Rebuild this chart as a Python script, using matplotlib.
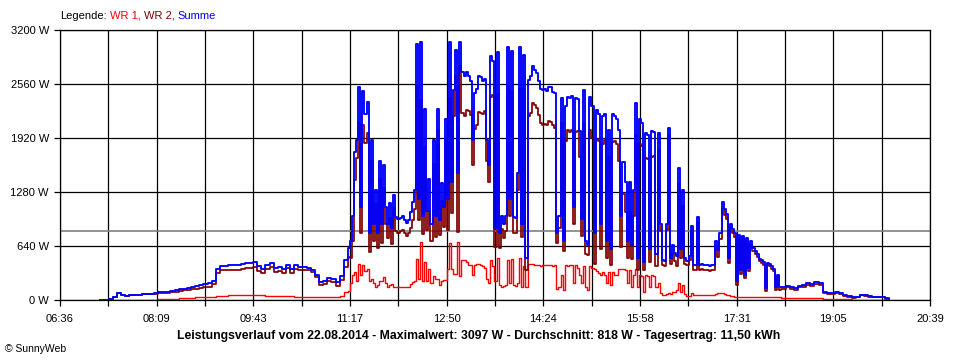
import numpy as np
import matplotlib
matplotlib.use('Agg')
import matplotlib.pyplot as plt

plt.rcParams['font.family'] = ['Liberation Sans', 'DejaVu Sans']

# Zeitachse (Minuten ab Mitternacht), Beschriftung
x_labels = ['06:36', '08:09', '09:43', '11:17', '12:50', '14:24', '15:58', '17:31', '19:05', '20:39']
t_start, t_end = 396, 1239
y_ticks = [0, 640, 1280, 1920, 2560, 3200]
durchschnitt = 818

# Morgen 07:15 - 11:11, alle 4 min
summe_morgen = [0, 5, 10, 30, 80, 60, 50, 60, 60, 65,
                70, 70, 75, 80, 90, 95, 100, 105, 115, 125,
                135, 140, 150, 165, 175, 190, 200, 230, 370, 400,
                400, 410, 410, 420, 430, 440, 440, 455, 400, 370,
                420, 440, 380, 390, 370, 420, 370, 410, 390, 390,
                380, 360, 300, 210, 220, 260, 250, 210, 280, 480]
wr1_morgen = [0, 0, 0, 0, 0, 0, 0, 0, 0, 0,
              0, 0, 0, 5, 10, 10, 15, 15, 15, 20,
              20, 25, 25, 30, 30, 35, 40, 40, 45, 50,
              50, 55, 55, 60, 60, 65, 65, 65, 60, 55,
              50, 45, 45, 45, 45, 45, 45, 40, 35, 35,
              30, 30, 30, 30, 30, 30, 35, 40, 45, 90]

# Mittag 11:15 - 18:15, alle 2 min
summe_mittag = [620, 700, 1000, 1750, 1900, 2530, 1100, 2480, 2200, 2350,
                800, 1900, 900, 1300, 800, 1650, 900, 1600, 1100, 900,
                1150, 850, 1250, 980, 960, 970, 990, 950, 910, 950,
                1040, 1160, 1300, 3040, 1200, 3060, 1000, 2260, 1050, 1430,
                900, 1900, 1000, 2260, 950, 1390, 1100, 2140, 1200, 3060,
                1400, 2490, 2960, 1500, 3060, 2700, 2650, 2700, 2650, 2600,
                1900, 2450, 2500, 2660, 2640, 2600, 2620, 1900, 1600, 2890,
                2830, 850, 2940, 800, 1000, 900, 1000, 3000, 1200, 2950,
                980, 970, 1500, 3000, 900, 2900, 500, 2610, 2650, 2770,
                2730, 2690, 2600, 2500, 2490, 2500, 2480, 2530, 2520, 2470,
                2450, 800, 1000, 2400, 700, 2300, 2410, 2400, 2420, 1100,
                2400, 2380, 2000, 960, 2490, 700, 650, 2410, 2300, 800,
                2250, 2200, 900, 2180, 2200, 700, 2020, 600, 2200, 2180,
                2150, 2020, 1000, 1630, 1400, 700, 1400, 650, 1300, 2330,
                500, 2150, 2100, 450, 1980, 1950, 600, 2000, 1990, 550,
                1980, 900, 480, 460, 900, 2040, 500, 650, 560, 520,
                1570, 600, 1300, 500, 460, 520, 880, 410, 420, 980,
                420, 430, 420, 410, 410, 400, 410, 420, 700, 590,
                800, 1160, 1080, 1020, 500, 900, 840, 790, 220, 770,
                350, 760, 300, 740, 380, 700, 620, 580, 540, 490,
                470, 450, 140, 440, 430, 400, 370, 150, 300, 150,
                160]
wr1_mittag = [110, 200, 300, 330, 220, 430, 300, 410, 340, 370,
              230, 250, 200, 160, 180, 220, 220, 270, 200, 160,
              180, 190, 160, 160, 160, 155, 155, 155, 150, 160,
              190, 210, 220, 490, 250, 690, 220, 450, 220, 370,
              200, 290, 250, 250, 180, 220, 240, 240, 370, 670,
              370, 310, 310, 690, 290, 480, 470, 450, 410, 410,
              300, 420, 430, 430, 420, 400, 380, 250, 200, 480,
              400, 220, 500, 180, 160, 170, 180, 470, 200, 490,
              180, 170, 200, 500, 150, 400, 150, 430, 430, 430,
              420, 410, 410, 400, 410, 410, 410, 410, 410, 400,
              410, 130, 150, 300, 120, 410, 400, 410, 410, 200,
              410, 380, 300, 200, 400, 150, 120, 400, 380, 370,
              340, 320, 300, 330, 300, 200, 330, 180, 330, 300,
              300, 370, 370, 370, 360, 200, 360, 160, 300, 370,
              150, 300, 280, 100, 300, 280, 150, 300, 280, 150,
              200, 80, 60, 60, 70, 80, 70, 100, 100, 120,
              200, 100, 180, 70, 50, 50, 80, 60, 60, 60,
              60, 60, 60, 60, 60, 60, 60, 60, 70, 80,
              80, 80, 70, 60, 60, 50, 45, 40, 40, 40,
              40, 40, 40, 40, 40, 35, 35, 30, 30, 30,
              30, 30, 30, 30, 30, 30, 30, 30, 30, 30,
              25]

# Abend 18:19 - 19:59, alle 4 min
summe_abend = [170, 150, 140, 170, 180, 200, 190, 210, 200, 100,
               80, 80, 90, 80, 60, 50, 30, 40, 60, 55,
               45, 40, 40, 35, 20, 10]
wr1_abend = [20, 20, 20, 20, 20, 20, 20, 20, 20, 15,
             10, 10, 10, 10, 10, 10, 5, 5, 5, 5,
             5, 5, 5, 5, 3, 2]

t = np.concatenate([435 + 4 * np.arange(len(summe_morgen)),
                    675 + 2 * np.arange(len(summe_mittag)),
                    1099 + 4 * np.arange(len(summe_abend))])
summe = np.array(summe_morgen + summe_mittag + summe_abend, dtype=float)
wr1 = np.array(wr1_morgen + wr1_mittag + wr1_abend, dtype=float)
wr2 = summe - wr1

fig = plt.figure(figsize=(9.6, 3.6), dpi=100)
ax = fig.add_axes([60 / 960, 60 / 360, 870 / 960, 270 / 360])

ax.plot(t, wr1, color='#ff0000', lw=1.0, drawstyle='steps-post', zorder=3)
ax.plot(t, wr2, color='#800000', lw=1.25, drawstyle='steps-post', zorder=4)
ax.plot(t, summe, color='#0000ff', lw=1.35, drawstyle='steps-post', zorder=5)
ax.axhline(durchschnitt, color='#808080', lw=1.2, zorder=2)

ax.set_xlim(t_start, t_end)
ax.set_ylim(0, 3200)
major = np.linspace(t_start, t_end, len(x_labels))
ax.set_xticks(major)
ax.set_xticklabels(x_labels, fontsize=8)
ax.set_xticks((major[:-1] + major[1:]) / 2, minor=True)
ax.set_yticks(y_ticks)
ax.set_yticklabels(['%d W' % v for v in y_ticks], fontsize=8)
ax.grid(which='both', color='black', lw=0.9, zorder=1)
ax.set_axisbelow(True)
ax.tick_params(axis='x', which='both', length=4, width=0.9, pad=6)
ax.tick_params(axis='y', length=4, width=0.9, pad=4)
for s in ax.spines.values():
    s.set_linewidth(0.9)

fig.text(0.499, 1 - 336 / 360,
         'Leistungsverlauf vom 22.08.2014 - Maximalwert: 3097 W - Durchschnitt: 818 W - Tagesertrag: 11,50 kWh',
         ha='center', va='center', fontsize=8.8, fontweight='bold')
fig.text(5 / 960, 1 - 349 / 360, '© SunnyWeb', ha='left', va='center', fontsize=7.5)

# Legende, farbig zusammengesetzt
renderer = fig.canvas.get_renderer()
x = 60
for s, c in [('Legende:', 'black'), ('WR 1,', '#ff0000'), ('WR 2,', '#800000'), ('Summe', '#0000ff')]:
    txt = fig.text(x / 960, 1 - 16 / 360, s, color=c, ha='left', va='center', fontsize=8)
    bb = txt.get_window_extent(renderer)
    x = bb.x1 + 3

fig.savefig('out.png', dpi=100)
